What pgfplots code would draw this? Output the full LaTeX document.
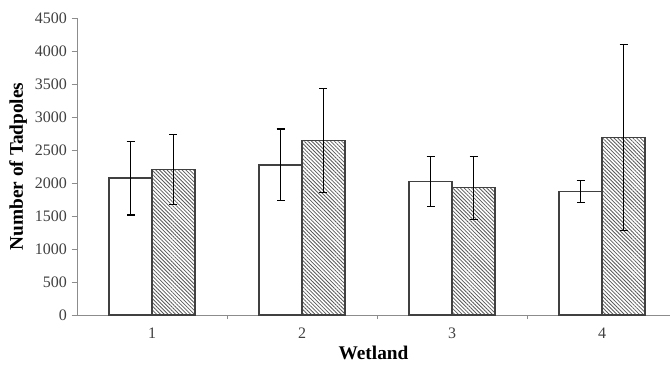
\documentclass[border=0pt]{standalone}
\usepackage{pgfplots}
\pgfplotsset{compat=1.18}
\usepackage{fontspec}
\setmainfont{Liberation Serif}
\usetikzlibrary{patterns.meta}
\definecolor{axgray}{HTML}{8C8C8C}
\definecolor{txtgray}{HTML}{404040}
\definecolor{barline}{HTML}{404040}
\begin{document}
\begin{tikzpicture}
\path[use as bounding box] (-57.75pt,-37.5pt) rectangle (444.75pt,236.25pt);
\begin{axis}[
  at={(0,0)}, anchor=south west,
  scale only axis, width=444.75pt, height=222.75pt,
  xmin=0.5, xmax=4.453, ymin=0, ymax=4500,
  axis x line*=bottom, axis y line*=left,
  axis line style={axgray, line width=0.7pt},
  ytick={0,500,...,4500},
  xtick={1,2,3,4},
  minor xtick={1.5,2.5,3.5},
  major x tick style={draw=none},
  minor tick length=3pt,
  major tick length=4pt,
  tick align=outside,
  tick style={axgray, line width=0.7pt},
  ticklabel style={font=\fontsize{12}{13}\selectfont, text=txtgray},
  xticklabel style={yshift=-2pt},
  /pgf/number format/assume math mode=true,
  scaled y ticks=false,
  yticklabel style={/pgf/number format/set thousands separator={}},
  ylabel={\textbf{Number of Tadpoles}},
  xlabel={\textbf{Wetland}},
  label style={font=\fontsize{14.5}{16}\selectfont, text=black},
  ylabel style={at={(rel axis cs:0,0.5)}, anchor=south, yshift=34pt},
  xlabel style={yshift=1pt},
  ybar, bar width=32.25pt,
  clip=false,
]
\addplot[bar shift=-16.1pt, draw=barline, line width=1pt, fill=white,
  error bars/.cd, y dir=both, y explicit,
  error bar style={black, line width=0.7pt},
  error mark options={rotate=90, mark size=3pt, line width=0.8pt}]
  coordinates {
  (1,2075) +- (0,560)
  (2,2273) +- (0,545)
  (3,2020) +- (0,380)
  (4,1869) +- (0,170)
  };
\addplot[bar shift=16.1pt, draw=barline, line width=1pt,
  pattern={Lines[angle=-45,distance=2pt,line width=0.6pt]}, pattern color=gray!70!black,
  error bars/.cd, y dir=both, y explicit,
  error bar style={black, line width=0.7pt},
  error mark options={rotate=90, mark size=3pt, line width=0.8pt}]
  coordinates {
  (1,2205) +- (0,535)
  (2,2647) +- (0,785)
  (3,1929) +- (0,478)
  (4,2692) +- (0,1405)
  };
\end{axis}
\end{tikzpicture}
\end{document}
